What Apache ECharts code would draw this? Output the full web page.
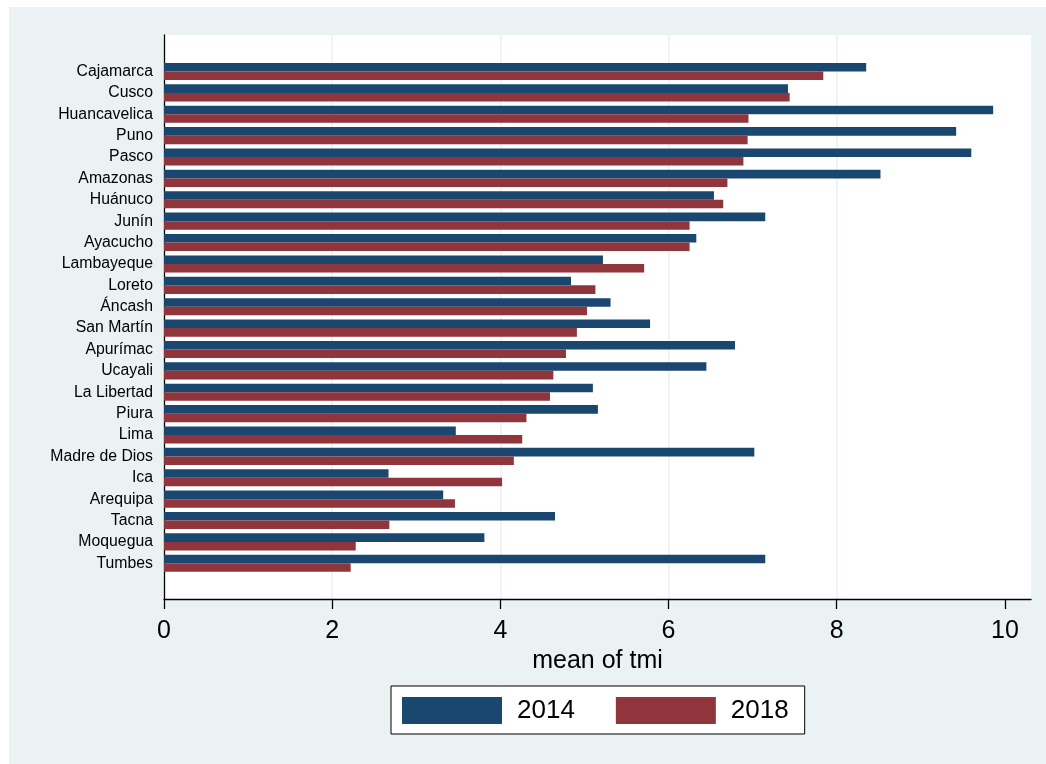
<!DOCTYPE html>
<html>
<head>
<meta charset="utf-8">
<script src="https://cdn.jsdelivr.net/npm/echarts@6/dist/echarts.min.js"></script>
<style>
  html, body { margin: 0; padding: 0; background: #ffffff; }
  #chart { position: absolute; left: 0; top: 0; width: 1046px; height: 764px; }
</style>
</head>
<body>
<div id="chart"></div>
<script>
// Regions, ordered by 2018 mean (top to bottom)
const regions = [
  'Cajamarca', 'Cusco', 'Huancavelica', 'Puno', 'Pasco', 'Amazonas', 'Huánuco',
  'Junín', 'Ayacucho', 'Lambayeque', 'Loreto', 'Áncash', 'San Martín', 'Apurímac',
  'Ucayali', 'La Libertad', 'Piura', 'Lima', 'Madre de Dios', 'Ica', 'Arequipa',
  'Tacna', 'Moquegua', 'Tumbes'
];

// mean of tmi by year
const tmi2014 = [
  8.35, 7.42, 9.86, 9.42, 9.60, 8.52, 6.54,
  7.15, 6.33, 5.22, 4.84, 5.31, 5.78, 6.79,
  6.45, 5.10, 5.16, 3.47, 7.02, 2.67, 3.32,
  4.65, 3.81, 7.15
];
const tmi2018 = [
  7.84, 7.44, 6.95, 6.94, 6.89, 6.70, 6.65,
  6.25, 6.25, 5.71, 5.13, 5.03, 4.91, 4.78,
  4.63, 4.59, 4.31, 4.26, 4.16, 4.02, 3.46,
  2.68, 2.28, 2.22
];

const xTicks = [0, 2, 4, 6, 8, 10];
const xName = 'mean of tmi';
const seriesNames = ['2014', '2018'];

const FONT = '"Liberation Sans", Arial, sans-serif';
const NAVY = '#1a476f';
const MAROON = '#90353b';
const PANEL = '#eaf2f3';
const X_MAX = 10.31;

const chart = echarts.init(document.getElementById('chart'), null, { renderer: 'canvas' });

chart.setOption({
  animation: false,
  backgroundColor: 'transparent',
  textStyle: { fontFamily: FONT },
  graphic: [{
    type: 'rect',
    silent: true,
    z: -100,
    shape: { x: 9, y: 7, width: 1037, height: 757 },
    style: { fill: PANEL }
  }],
  grid: [
    // plot region: white panel, x axis, left axis line
    { left: 164, right: 15, top: 35, bottom: 165, show: true, backgroundColor: '#ffffff', borderWidth: 0 },
    // bar region, inset vertically inside the panel
    { left: 164, right: 15, top: 60.8, bottom: 190 }
  ],
  xAxis: [
    {
      gridIndex: 0,
      type: 'value',
      min: 0,
      max: X_MAX,
      interval: 2,
      name: xName,
      nameLocation: 'middle',
      nameGap: 47,
      nameTextStyle: { fontSize: 25, color: '#000', fontFamily: FONT },
      axisLine: { show: true, onZero: false, lineStyle: { color: '#000', width: 1.3 } },
      axisTick: { show: true, length: 10, lineStyle: { color: '#000', width: 1.3 }, customValues: xTicks },
      axisLabel: { fontSize: 25, color: '#000', margin: 20, fontFamily: FONT, customValues: xTicks },
      splitLine: { show: true, showMaxLine: false, lineStyle: { color: PANEL, width: 1.5 } }
    },
    {
      gridIndex: 1,
      type: 'value',
      min: 0,
      max: X_MAX,
      show: false,
      splitLine: { show: false }
    }
  ],
  yAxis: [
    {
      gridIndex: 0,
      type: 'value',
      min: 0,
      max: 1,
      axisLine: { show: true, lineStyle: { color: '#000', width: 1.3 } },
      axisTick: { show: false },
      axisLabel: { show: false },
      splitLine: { show: false }
    },
    {
      gridIndex: 1,
      type: 'category',
      inverse: true,
      data: regions,
      axisLine: { show: false },
      axisTick: { show: false },
      splitLine: { show: false },
      axisLabel: { fontSize: 15.8, color: '#000', margin: 11, fontFamily: FONT, padding: [3, 0, 0, 0] }
    }
  ],
  legend: {
    left: 391,
    top: 686,
    orient: 'horizontal',
    padding: [11, 16, 10, 11],
    backgroundColor: '#ffffff',
    borderColor: '#000',
    borderWidth: 1,
    borderRadius: 0,
    itemWidth: 100,
    itemHeight: 27,
    itemGap: 41,
    icon: 'rect',
    selectedMode: false,
    textStyle: { fontSize: 26, color: '#000', fontFamily: FONT, padding: [3, 0, 0, 10] },
    data: seriesNames
  },
  series: [
    {
      name: seriesNames[0],
      type: 'bar',
      xAxisIndex: 1,
      yAxisIndex: 1,
      data: tmi2014,
      barGap: '0%',
      barCategoryGap: '20%',
      itemStyle: { color: NAVY }
    },
    {
      name: seriesNames[1],
      type: 'bar',
      xAxisIndex: 1,
      yAxisIndex: 1,
      data: tmi2018,
      barGap: '0%',
      barCategoryGap: '20%',
      itemStyle: { color: MAROON }
    }
  ]
});
</script>
</body>
</html>
